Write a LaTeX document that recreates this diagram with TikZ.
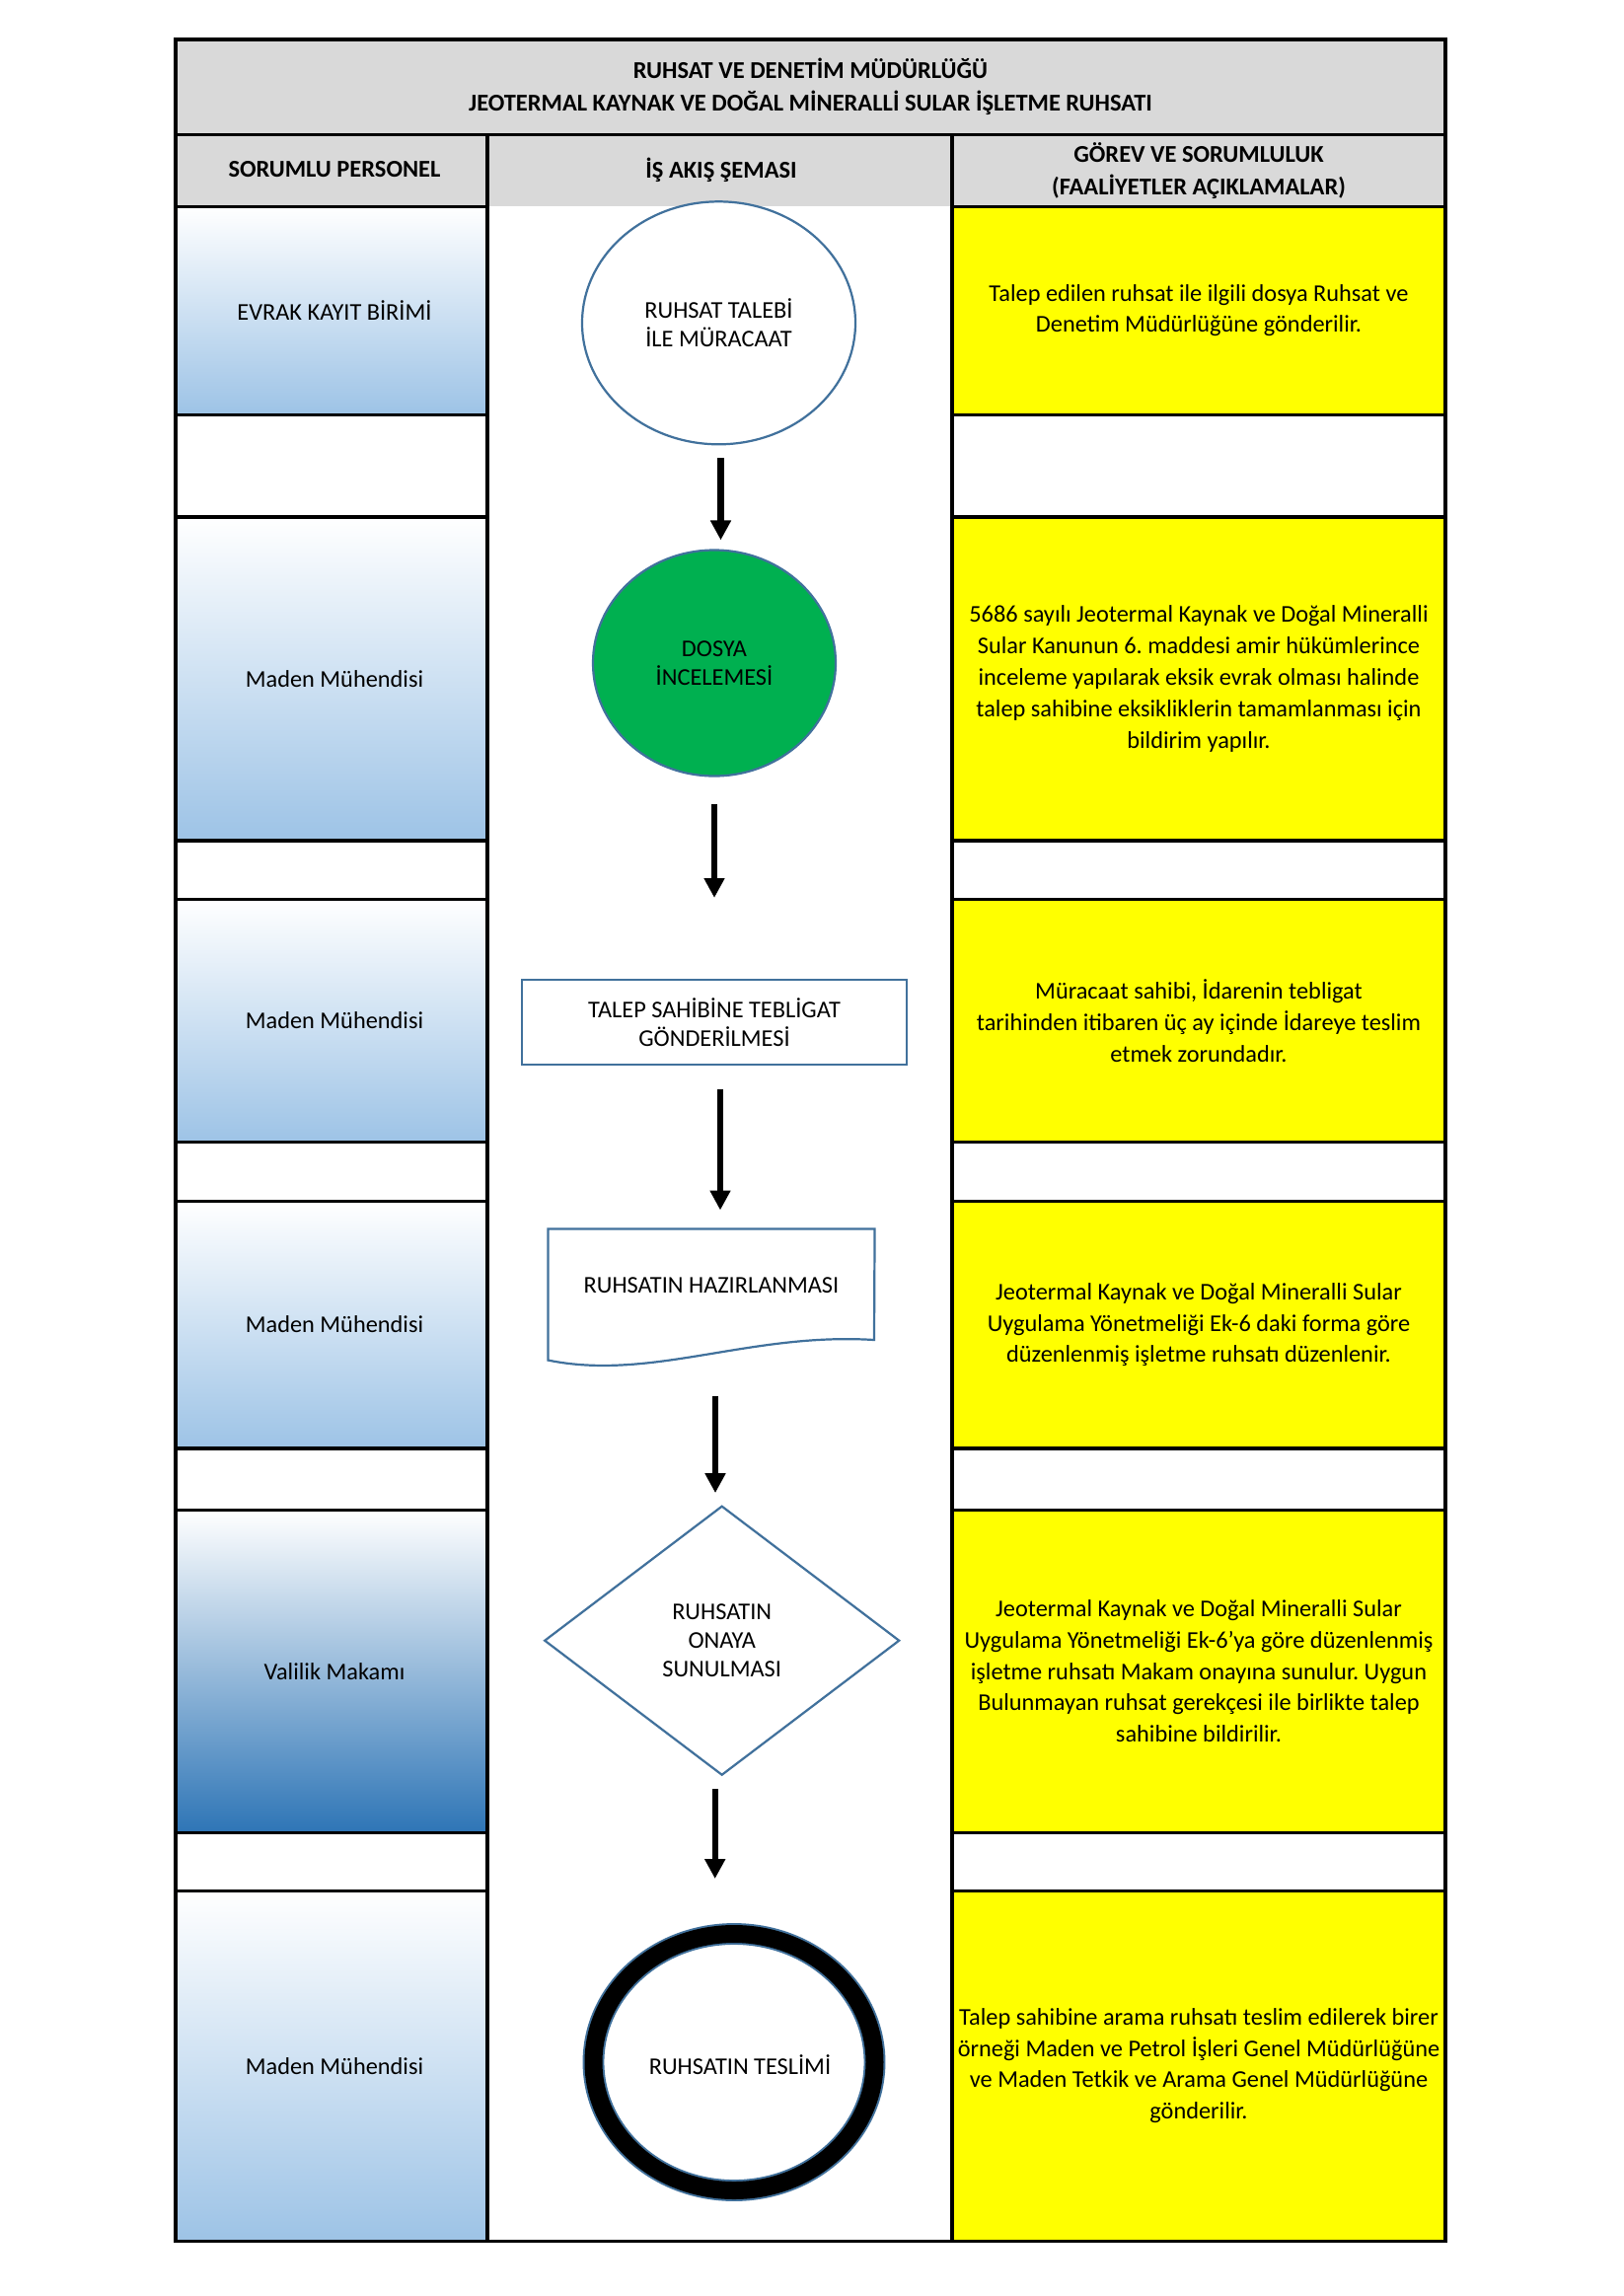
\documentclass[tikz,border=0pt]{standalone}
\usepackage{fontspec}
\setmainfont{Carlito}
\frenchspacing
\usetikzlibrary{shapes.geometric,arrows.meta}
\definecolor{headgray}{HTML}{D9D9D9}
\definecolor{notegold}{HTML}{FFFF00}
\definecolor{lineblue}{HTML}{41719C}
\definecolor{cellblue}{HTML}{9DC3E6}
\definecolor{deepblue}{HTML}{2E75B6}
\definecolor{okgreen}{HTML}{00B050}
\newcommand{\upx}[1]{#1*0.36166pt}
\tikzset{every node/.style={font=\fontsize{8.8}{11.5}\selectfont, align=center, inner sep=0pt},
  grid/.style={black, line width=1.1pt},
  headtext/.style={font=\bfseries\fontsize{8.85}{12}\selectfont},
  flow/.style={draw=lineblue, line width=0.8pt, fill=white, font=\fontsize{8.8}{10.6}\selectfont},
  flowarrow/.style={-{Triangle[length=7.2pt,width=7.2pt]}, line width=2.2pt}}

\begin{document}
\begin{tikzpicture}[x=0.36166pt, y=-0.36166pt]
  \useasboundingbox (0,0) rectangle (1646,2327);
  \fill[white] (0,0) rectangle (1646,2327);

  \fill[headgray] (178,40) rectangle (1465,209.3);
  \foreach \ya/\yb in {209.3/420.1, 524/852, 911.4/1157.8, 1217.2/1468, 1916.4/2271} {
    \shade[top color=white, bottom color=cellblue] (178,\ya) rectangle (494,\yb);
    \fill[notegold] (965,\ya) rectangle (1465,\yb);
  }
  \shade[top color=white, bottom color=deepblue] (178,1530.4) rectangle (494,1857);
  \fill[notegold] (965,1530.4) rectangle (1465,1857);

  \draw[grid] (178,40) rectangle (1465,2271);
  \draw[grid] (178,136.6) -- (1465,136.6);
  \draw[grid] (494,136.6) -- (494,2271);
  \draw[grid] (965,136.6) -- (965,2271);
  \foreach \y in {209.3, 420.1, 524, 852, 911.4, 1157.8, 1217.2, 1468, 1530.4, 1857, 1916.4}
    \draw[grid] (178,\y) -- (494,\y) (965,\y) -- (1465,\y);

  \node[headtext] (title) at (821.5,88)
    {RUHSAT VE DENETİM MÜDÜRLÜĞÜ\\JEOTERMAL KAYNAK VE DOĞAL MİNERALLİ SULAR İŞLETME RUHSATI};
  \node[headtext] (head1) at (339,172) {SORUMLU PERSONEL};
  \node[headtext] (head2) at (731,172) {İŞ AKIŞ ŞEMASI};
  \node[headtext] (head3) at (1215,173) {GÖREV VE SORUMLULUK\\(FAALİYETLER AÇIKLAMALAR)};

  \foreach \n/\y/\t in {1/314.7/EVRAK KAYIT BİRİMİ, 2/688/Maden Mühendisi, 3/1034.6/Maden Mühendisi,
      4/1342.6/Maden Mühendisi, 5/1693.7/Valilik Makamı, 6/2093.7/Maden Mühendisi}
    \node (per\n) at (339,\y) {\t};

  \node (task1) at (1215,314.7) {Talep edilen ruhsat ile ilgili dosya Ruhsat ve\\Denetim Müdürlüğüne gönderilir.};
  \node (task2) at (1215,688) {5686 sayılı Jeotermal Kaynak ve Doğal Mineralli\\Sular Kanunun 6. maddesi amir hükümlerince\\inceleme yapılarak eksik evrak olması halinde\\talep sahibine eksikliklerin tamamlanması için\\bildirim yapılır.};
  \node (task3) at (1215,1034.6) {Müracaat sahibi, İdarenin tebligat\\tarihinden itibaren üç ay içinde İdareye teslim\\etmek zorundadır.};
  \node (task4) at (1215,1342.6) {Jeotermal Kaynak ve Doğal Mineralli Sular\\Uygulama Yönetmeliği Ek-6 daki forma göre\\düzenlenmiş işletme ruhsatı düzenlenir.};
  \node (task5) at (1215,1693.7) {Jeotermal Kaynak ve Doğal Mineralli Sular\\Uygulama Yönetmeliği Ek-6’ya göre düzenlenmiş\\işletme ruhsatı Makam onayına sunulur. Uygun\\Bulunmayan ruhsat gerekçesi ile birlikte talep\\sahibine bildirilir.};
  \node (task6) at (1215,2093.7) {Talep sahibine arama ruhsatı teslim edilerek birer\\örneği Maden ve Petrol İşleri Genel Müdürlüğüne\\ve Maden Tetkik ve Arama Genel Müdürlüğüne\\gönderilir.};

  \node[flow, ellipse, minimum width=\upx{277}, minimum height=\upx{246}] (basvuru) at (728.5,327.3)
    {RUHSAT TALEBİ\\İLE MÜRACAAT};
  \node[flow, ellipse, fill=okgreen, minimum width=\upx{246}, minimum height=\upx{229}] (inceleme) at (724,672)
    {DOSYA\\İNCELEMESİ};
  \node[flow, rectangle, minimum width=\upx{390}, minimum height=\upx{86}] (tebligat) at (724,1036)
    {TALEP SAHİBİNE TEBLİGAT\\GÖNDERİLMESİ};
  \node[minimum width=\upx{330}, minimum height=\upx{132}] (hazirlik) at (721,1312) {};
  \draw[flow] (hazirlik.south west) -- (hazirlik.north west) -- (hazirlik.north east) -- (886,1358)
    .. controls (760,1350) and (660,1400) .. (hazirlik.south west) -- cycle;
  \node[font=\fontsize{8.8}{10.6}\selectfont] (hazirlikyazi) at (721,1303) {RUHSATIN HAZIRLANMASI};
  \node[flow, diamond, aspect=1.3, minimum width=\upx{360}, minimum height=\upx{273}] (onay) at (731.7,1662.7)
    {RUHSATIN\\ONAYA\\SUNULMASI};
  \node[ellipse, draw=lineblue, double=black, double distance=\upx{18}, line width=0.7pt,
    minimum width=\upx{285}, minimum height=\upx{260}] (teslim) at (744,2090) {};
  \node[font=\fontsize{8.8}{10.6}\selectfont] (teslimyazi) at (750,2093) {RUHSATIN TESLİMİ};

  \draw[flowarrow, shorten <=\upx{13}, shorten >=\upx{9}]
    ([xshift=\upx{2}]basvuru.south) -- ([xshift=\upx{2}]basvuru.south |- inceleme.north);
  \draw[flowarrow, shorten <=\upx{27}, shorten >=\upx{82}]
    (inceleme.south) -- (inceleme.south |- tebligat.north);
  \draw[flowarrow, shorten <=\upx{24}, shorten >=\upx{19}]
    ([xshift=\upx{6}]tebligat.south) -- ([xshift=\upx{6}]tebligat.south |- hazirlik.north);
  \draw[flowarrow, shorten <=\upx{36}, shorten >=\upx{12}]
    ([xshift=\upx{4}]hazirlik.south) -- ([xshift=\upx{4}]hazirlik.south |- onay.north);
  \draw[flowarrow, shorten <=\upx{13}, shorten >=\upx{55}]
    ([xshift=\upx{-7}]onay.south) -- ([xshift=\upx{-7}]onay.south |- teslim.north);
\end{tikzpicture}
\end{document}
